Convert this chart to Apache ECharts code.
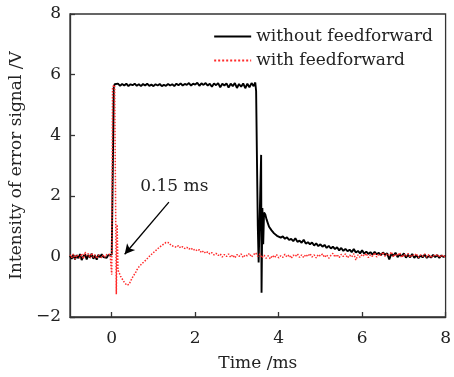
<!DOCTYPE html>
<html>
<head>
<meta charset="utf-8">
<script src="https://cdn.jsdelivr.net/npm/echarts@6/dist/echarts.min.js"></script>
<style>html,body{margin:0;padding:0;background:#fff}#c{width:454px;height:377px}</style>
</head>
<body>
<div id="c"></div>
<script>
// x tick labels / y ticks
const xTicks = [0, 2, 4, 6, 8];
const seriesNames = ['without feedforward', 'with feedforward'];

// without feedforward: [time (ms), voltage (V)]
const withoutFF = [
[-1.00,0.02],[-0.96,-0.08],[-0.92,0.05],[-0.88,-0.10],[-0.84,0.04],[-0.80,-0.06],[-0.76,0.08],[-0.72,-0.12],
[-0.68,0.00],[-0.64,0.07],[-0.60,-0.10],[-0.56,0.05],[-0.52,-0.04],[-0.48,0.09],[-0.44,-0.08],[-0.40,0.03],
[-0.36,-0.11],[-0.32,0.05],[-0.28,-0.03],[-0.24,0.07],[-0.20,-0.02],[-0.16,0.04],[-0.12,-0.05],[-0.08,0.05],
[-0.04,0.08],[0.00,0.06],[0.03,0.12],[0.05,5.60],[0.07,5.68],
[0.10,5.66],[0.15,5.70],[0.20,5.63],[0.25,5.69],[0.30,5.64],[0.35,5.70],[0.40,5.62],[0.45,5.68],[0.50,5.65],
[0.55,5.70],[0.60,5.63],[0.65,5.68],[0.70,5.62],[0.75,5.69],[0.80,5.64],[0.85,5.70],[0.90,5.63],[0.95,5.67],
[1.00,5.62],[1.05,5.68],[1.10,5.64],[1.15,5.69],[1.20,5.62],[1.25,5.66],[1.30,5.63],[1.35,5.69],[1.40,5.64],
[1.45,5.68],[1.50,5.62],[1.55,5.70],[1.60,5.65],[1.65,5.71],[1.70,5.64],[1.75,5.69],[1.80,5.66],[1.85,5.72],
[1.90,5.64],[1.95,5.70],[2.00,5.67],[2.05,5.73],[2.10,5.63],[2.15,5.71],[2.20,5.66],[2.25,5.72],[2.30,5.64],
[2.35,5.70],[2.40,5.60],[2.45,5.71],[2.50,5.65],[2.55,5.72],[2.60,5.58],[2.65,5.70],[2.70,5.64],[2.75,5.71],
[2.80,5.57],[2.85,5.70],[2.90,5.62],[2.95,5.72],[3.00,5.56],[3.05,5.69],[3.10,5.60],[3.15,5.71],[3.20,5.55],
[3.25,5.70],[3.30,5.58],[3.35,5.72],[3.40,5.62],[3.44,5.74],
[3.46,5.45],[3.48,3.20],[3.50,1.00],[3.52,-0.20],[3.54,0.90],[3.56,2.20],[3.58,3.35],[3.59,-1.20],[3.61,1.60],
[3.63,0.40],[3.65,1.45],[3.68,1.38],[3.71,1.22],[3.74,1.10],[3.77,0.98],[3.80,1.00],[3.83,0.86],[3.86,0.88],
[3.89,0.76],[3.92,0.79],[3.96,0.68],[4.00,0.72],[4.05,0.62],[4.10,0.66],[4.15,0.58],[4.20,0.63],[4.25,0.54],
[4.30,0.58],[4.35,0.50],[4.40,0.60],[4.45,0.48],[4.50,0.52],[4.55,0.45],[4.60,0.55],[4.65,0.42],[4.70,0.47],
[4.75,0.40],[4.80,0.46],[4.85,0.36],[4.90,0.43],[4.95,0.34],[5.00,0.40],[5.05,0.32],[5.10,0.38],[5.15,0.28],
[5.20,0.35],[5.25,0.26],[5.30,0.32],[5.35,0.24],[5.40,0.30],[5.45,0.20],[5.50,0.28],[5.55,0.18],[5.60,0.25],
[5.65,0.17],[5.70,0.22],[5.75,0.14],[5.80,0.24],[5.85,0.13],[5.90,0.18],[5.95,0.10],[6.00,0.20],[6.05,0.09],
[6.10,0.16],[6.15,0.08],[6.20,0.14],[6.25,0.06],[6.30,0.15],[6.35,0.07],[6.40,0.12],[6.45,0.04],[6.50,0.13],
[6.55,0.05],[6.60,0.10],[6.65,-0.10],[6.70,0.08],[6.75,0.02],[6.80,0.12],[6.85,-0.02],[6.90,0.06],[6.95,0.00],
[7.00,0.10],[7.05,-0.04],[7.10,0.05],[7.15,-0.03],[7.20,0.08],[7.25,-0.05],[7.30,0.04],[7.35,-0.06],[7.40,0.03],
[7.45,-0.03],[7.50,0.06],[7.55,-0.05],[7.60,0.02],[7.65,-0.04],[7.70,0.05],[7.75,-0.02],[7.80,0.04],[7.85,-0.05],
[7.90,0.03],[7.95,-0.02],[8.00,0.02]
];

// with feedforward: [time (ms), voltage (V)]
const withFF = [
[-1.00,0.05],[-0.96,-0.04],[-0.92,0.08],[-0.88,-0.09],[-0.84,0.06],[-0.80,0.12],[-0.76,-0.05],[-0.72,0.09],
[-0.68,-0.08],[-0.64,0.14],[-0.60,0.02],[-0.56,0.10],[-0.52,-0.06],[-0.48,0.11],[-0.44,-0.03],[-0.40,0.06],
[-0.36,-0.07],[-0.32,0.04],[-0.28,0.08],[-0.24,-0.04],[-0.20,0.05],[-0.16,-0.02],[-0.12,0.06],[-0.08,0.00],
[-0.04,0.07],[-0.01,0.03],[0.00,-0.60],[0.02,5.60],[0.04,5.66],[0.07,5.65],[0.10,5.62],[0.11,-1.25],[0.13,1.05],
[0.15,-0.45],[0.18,-0.55],[0.21,-0.65],[0.24,-0.72],[0.27,-0.78],[0.30,-0.85],[0.33,-0.88],[0.36,-0.95],[0.39,-1.00],
[0.42,-0.92],[0.45,-0.82],[0.48,-0.76],[0.51,-0.66],[0.54,-0.60],[0.57,-0.54],[0.60,-0.45],[0.63,-0.44],[0.66,-0.33],
[0.70,-0.30],[0.74,-0.22],[0.78,-0.20],[0.82,-0.12],[0.86,-0.08],[0.90,0.00],[0.94,0.02],[0.98,0.10],[1.02,0.14],
[1.06,0.20],[1.10,0.24],[1.14,0.30],[1.18,0.34],[1.22,0.38],[1.26,0.44],[1.30,0.46],[1.34,0.42],[1.38,0.45],
[1.42,0.36],[1.46,0.40],[1.50,0.33],[1.55,0.30],[1.60,0.36],[1.65,0.28],[1.70,0.32],[1.75,0.26],[1.80,0.30],
[1.85,0.24],[1.90,0.28],[1.95,0.20],[2.00,0.24],[2.05,0.18],[2.10,0.22],[2.15,0.12],[2.20,0.18],[2.25,0.10],
[2.30,0.15],[2.35,0.08],[2.40,0.12],[2.45,0.05],[2.50,0.10],[2.55,0.03],[2.60,0.08],[2.65,-0.02],[2.70,0.06],
[2.75,0.00],[2.80,0.08],[2.85,-0.03],[2.90,0.05],[2.95,-0.05],[3.00,0.06],[3.05,0.00],[3.10,0.08],[3.15,-0.04],
[3.20,0.05],[3.25,0.02],[3.30,0.10],[3.35,-0.02],[3.40,0.06],[3.45,0.12],[3.50,0.00],[3.55,0.08],[3.60,-0.05],
[3.65,0.04],[3.70,-0.06],[3.75,0.02],[3.80,-0.08],[3.85,0.03],[3.90,-0.04],[3.95,0.06],[4.00,-0.05],[4.05,0.02],
[4.10,-0.03],[4.15,0.07],[4.20,-0.02],[4.25,0.05],[4.30,-0.06],[4.35,0.04],[4.40,0.00],[4.45,0.08],[4.50,-0.03],
[4.55,0.05],[4.60,-0.04],[4.65,0.06],[4.70,0.00],[4.75,0.09],[4.80,-0.02],[4.85,0.05],[4.90,-0.05],[4.95,0.06],
[5.00,0.01],[5.05,0.08],[5.10,-0.03],[5.15,0.05],[5.20,-0.06],[5.25,0.03],[5.30,0.10],[5.35,-0.02],[5.40,0.06],
[5.45,-0.04],[5.50,0.07],[5.55,0.00],[5.60,0.08],[5.65,-0.05],[5.70,0.04],[5.75,-0.02],[5.80,0.09],[5.85,-0.12],
[5.90,0.05],[5.95,-0.03],[6.00,0.07],[6.05,0.01],[6.10,0.10],[6.15,-0.04],[6.20,0.06],[6.25,0.00],[6.30,0.12],
[6.35,-0.02],[6.40,0.08],[6.45,0.03],[6.50,0.14],[6.55,0.00],[6.60,0.09],[6.65,0.04],[6.70,0.15],[6.75,-0.02],
[6.80,0.08],[6.85,0.02],[6.90,0.12],[6.95,-0.04],[7.00,0.07],[7.05,0.00],[7.10,0.10],[7.15,-0.03],[7.20,0.06],
[7.25,0.02],[7.30,0.09],[7.35,-0.04],[7.40,0.05],[7.45,0.00],[7.50,0.08],[7.55,-0.02],[7.60,0.06],[7.65,-0.05],
[7.70,0.04],[7.75,0.01],[7.80,0.07],[7.85,-0.03],[7.90,0.05],[7.95,-0.02],[8.00,0.03]
];

// annotation
const annotText = '0.15 ms';
const annotTextAt = [1.5, 2.32];
const arrowFrom = [1.37, 1.79];
const arrowTo = [0.31, 0.07];

const FONT = 'DejaVu Serif';
const chart = echarts.init(document.getElementById('c'), null, {renderer: 'canvas'});
const fmt = v => (v < 0 ? '\u2212' + (-v) : String(v));

chart.setOption({
  animation: false,
  backgroundColor: '#fff',
  textStyle: {fontFamily: FONT},
  grid: {left: 70, top: 14, right: 4, bottom: 56, show: true, borderColor: '#333', borderWidth: 1.3, backgroundColor: 'transparent'},
  legend: {
    orient: 'vertical', right: 16, top: 23, itemWidth: 37, itemHeight: 14, itemGap: 7,
    data: seriesNames,
    itemStyle: {opacity: 0},
    textStyle: {fontFamily: FONT, fontSize: 17, color: '#222'}
  },
  xAxis: {
    type: 'value', min: -1, max: 8,
    name: 'Time /ms', nameLocation: 'middle', nameGap: 38,
    nameTextStyle: {fontFamily: FONT, fontSize: 17, color: '#222'},
    axisLine: {show: true, onZero: false, lineStyle: {color: '#333', width: 1.3}},
    axisTick: {show: true, inside: true, length: 5, customValues: xTicks, lineStyle: {color: '#333', width: 1.3}},
    axisLabel: {customValues: xTicks, margin: 13, fontFamily: FONT, fontSize: 17, color: '#222', formatter: fmt},
    splitLine: {show: false}
  },
  yAxis: {
    type: 'value', min: -2, max: 8, interval: 2,
    name: 'Intensity of error signal /V', nameLocation: 'middle', nameGap: 45,
    nameTextStyle: {fontFamily: FONT, fontSize: 17, color: '#222'},
    axisLine: {show: true, onZero: false, lineStyle: {color: '#333', width: 1.3}},
    axisTick: {show: true, inside: true, length: 5, lineStyle: {color: '#333', width: 1.3}},
    axisLabel: {margin: 9, fontFamily: FONT, fontSize: 17, color: '#222', formatter: fmt},
    splitLine: {show: false}
  },
  series: [
    {
      name: seriesNames[0], type: 'line', data: withoutFF, symbol: 'none', z: 2,
      lineStyle: {color: '#000', width: 1.9}, itemStyle: {color: '#000'}
    },
    {
      name: seriesNames[1], type: 'line', data: withFF, symbol: 'none', z: 3,
      lineStyle: {color: '#ff2a2a', width: 1.5, type: 'dotted'}, itemStyle: {color: '#ff2a2a'},
      markLine: {
        silent: true, animation: false,
        symbol: ['none', 'arrow'], symbolSize: [8, 10],
        lineStyle: {color: '#000', width: 1.3, type: 'solid'},
        label: {show: false},
        data: [[{coord: arrowFrom}, {coord: arrowTo}]]
      },
      markPoint: {
        silent: true, animation: false,
        data: [{coord: annotTextAt, symbol: 'rect', symbolSize: 1, itemStyle: {color: 'rgba(0,0,0,0)'},
          label: {show: true, position: 'inside', formatter: annotText, fontFamily: FONT, fontSize: 17, color: '#222'}}]
      }
    }
  ]
});
</script>
</body>
</html>
